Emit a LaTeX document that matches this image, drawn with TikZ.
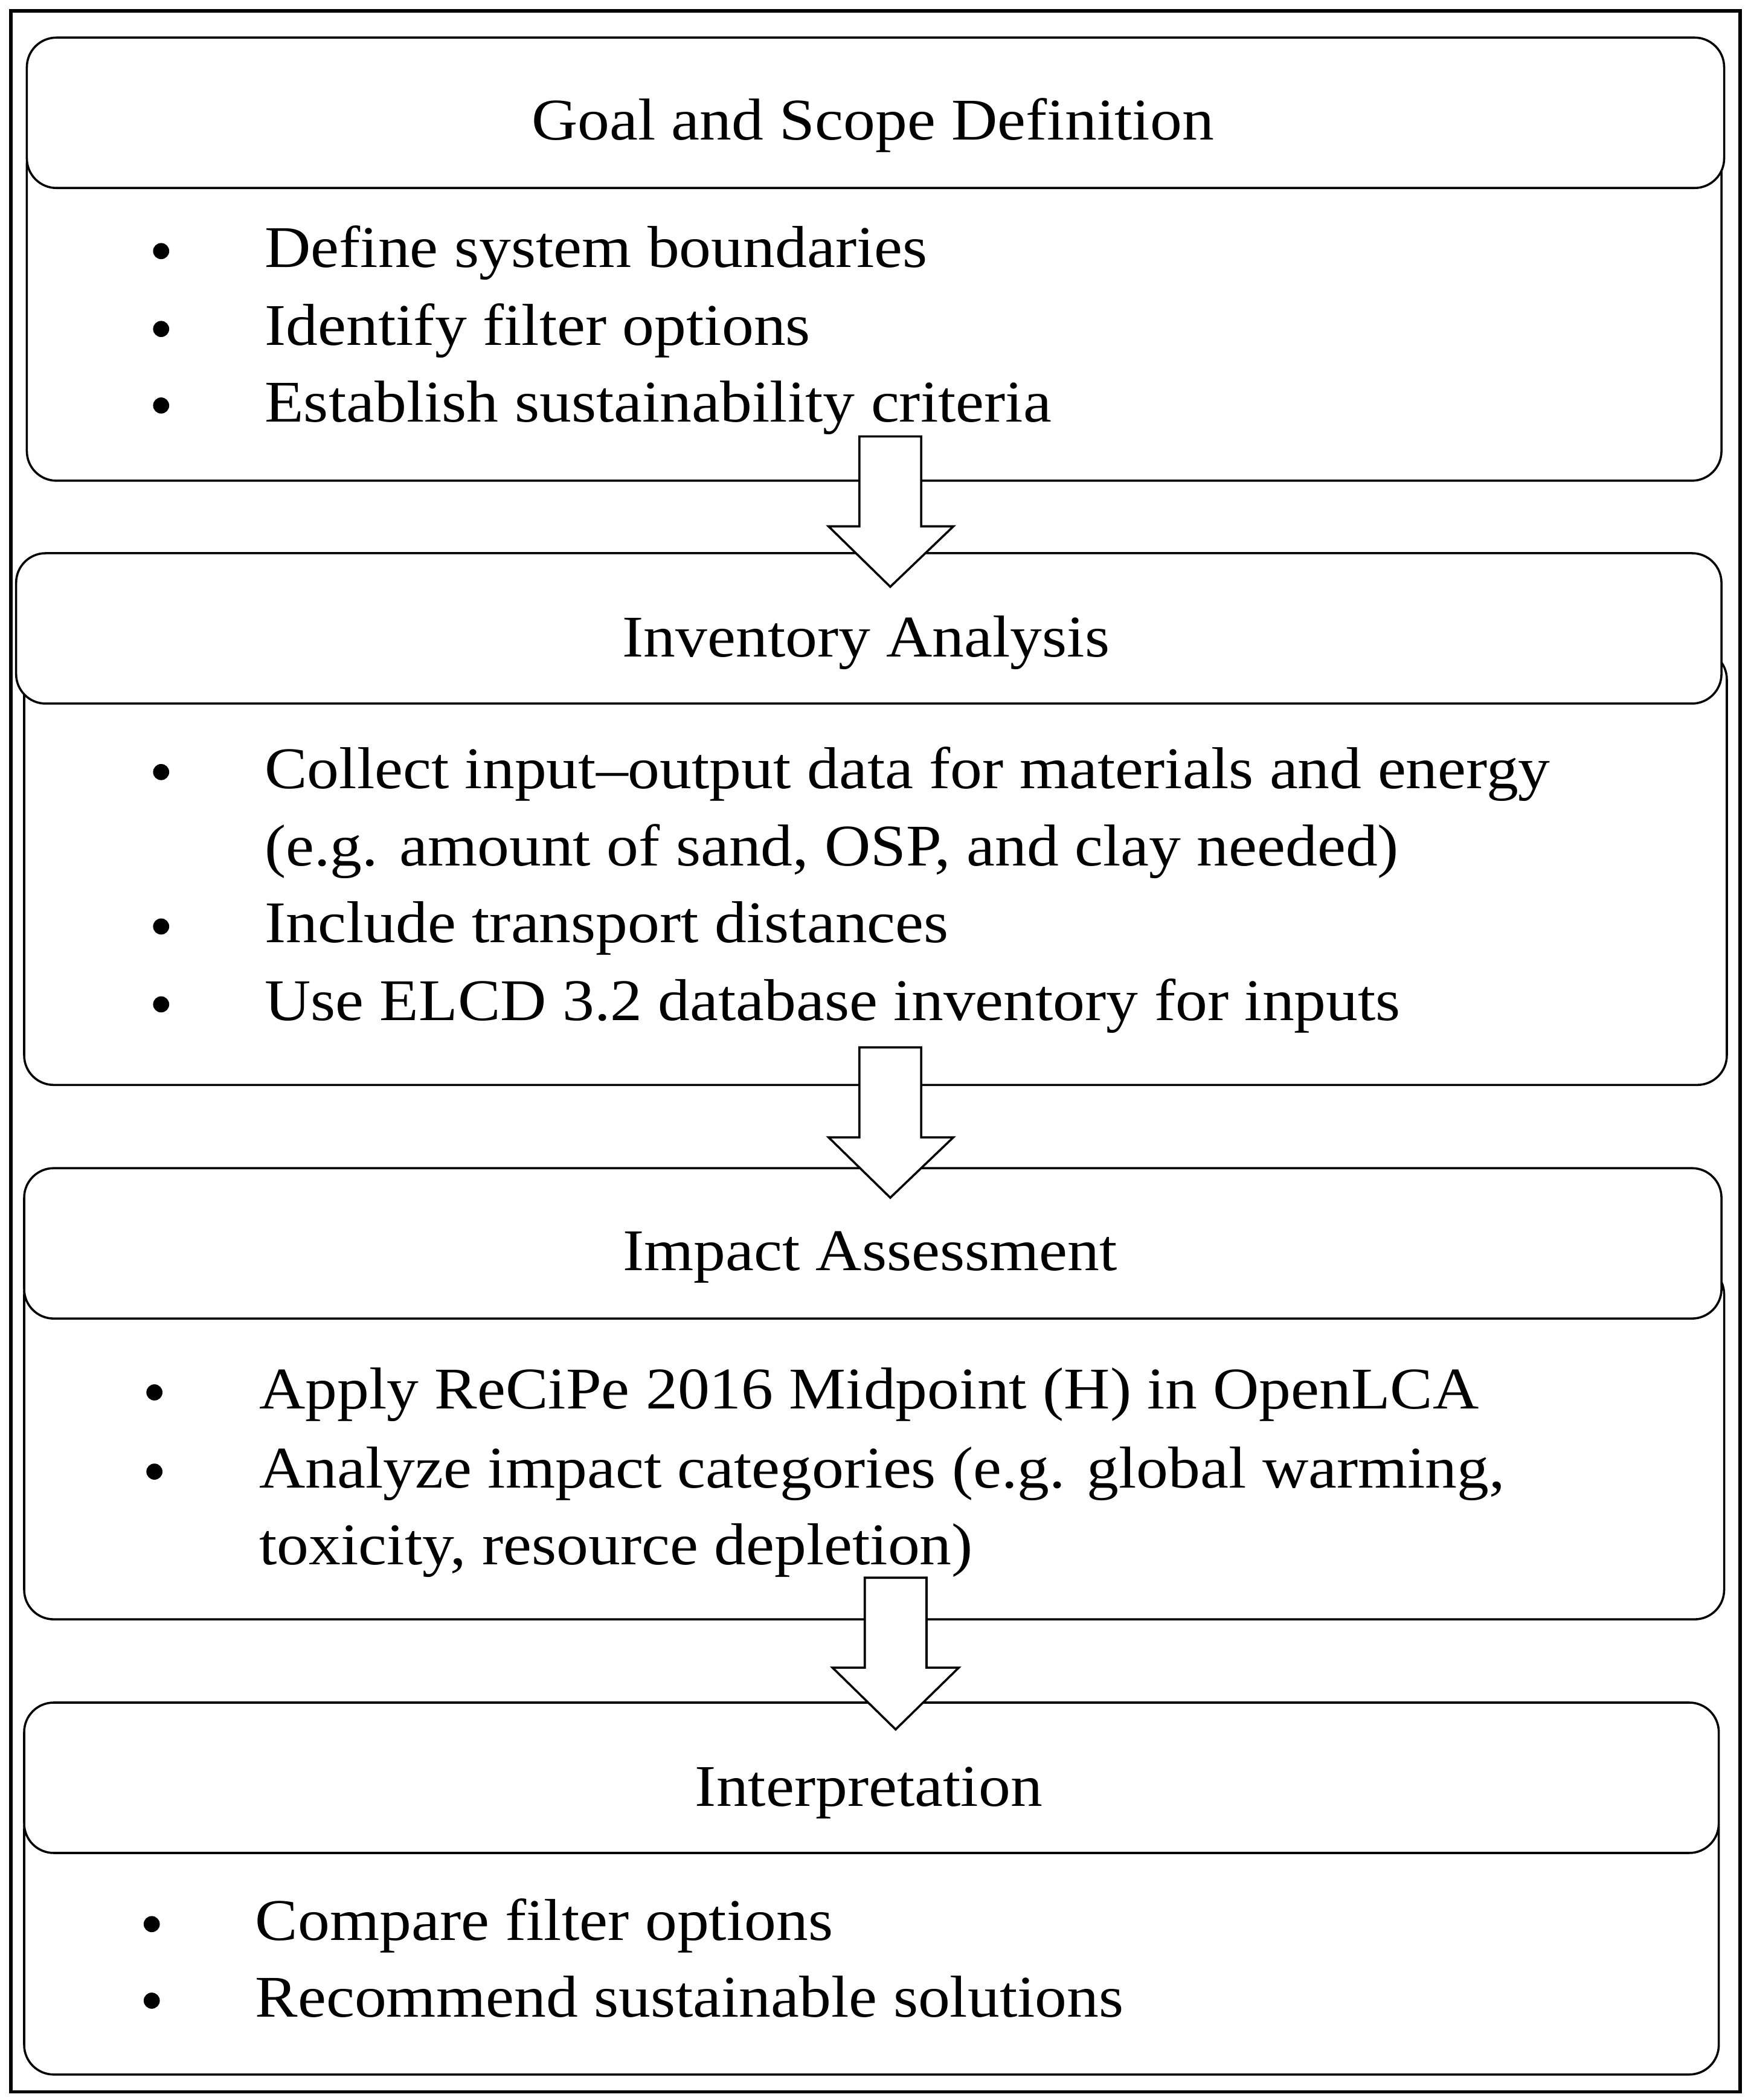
\documentclass[tikz,border=0pt]{standalone}
\usepackage{fontspec}
\setmainfont{Liberation Serif}[FakeStretch=1.08]
\begin{document}
\begin{tikzpicture}[x=1pt,y=-1pt,
  box/.style={draw=black,line width=1.6pt,rounded corners=22pt,fill=white},
  txt/.style={anchor=base west,inner sep=0pt,font=\fontsize{44}{50}\selectfont},
  head/.style={anchor=base,inner sep=0pt,font=\fontsize{44}{50}\selectfont},
  blt/.style={circle,fill=black,inner sep=0pt,minimum size=12pt},
  harrow/.style={draw=black,line width=1.6pt,fill=white,line join=miter}]
\useasboundingbox (0,0) rectangle (1304,1564);
\draw[line width=2.5pt] (8,8) rectangle (1296,1558);
% box 1
\draw[box] (20,100) rectangle (1282,358);
\draw[box] (20,28) rectangle (1284,140);
% box 2
\draw[box] (18,484) rectangle (1286,808);
\draw[box] (12,412) rectangle (1282,524);
% box 3
\draw[box] (18,942) rectangle (1284,1206);
\draw[box] (18,870) rectangle (1282,982);
% box 4
\draw[box] (18,1340) rectangle (1280,1545);
\draw[box] (18,1268) rectangle (1280,1380);
% arrows
\draw[harrow] (640,325) -- (686,325) -- (686,392) -- (710,392) -- (663,437) -- (617,392) -- (640,392) -- cycle;
\draw[harrow] (640,780) -- (686,780) -- (686,847) -- (710,847) -- (663,892) -- (617,847) -- (640,847) -- cycle;
\draw[harrow] (644,1175) -- (690,1175) -- (690,1242) -- (714,1242) -- (667,1288) -- (620,1242) -- (644,1242) -- cycle;
% headings
\node[head] (h1) at (650,104) {Goal and Scope Definition};
\node[head] (h2) at (645,489) {Inventory Analysis};
\node[head] (h3) at (648,946) {Impact Assessment};
\node[head] (h4) at (647,1345) {Interpretation};
% box1 text
\foreach \y/\t [count=\i] in {199/Define system boundaries,257/Identify filter options,314/Establish sustainability criteria}{
  \node[blt] (b1\i) at (120,\y-12) {};
  \node[txt] (t1\i) at (197,\y) {\t};}
% box2 text
\node[blt] (b21) at (120,575) {};
\node[txt] (t21) at (197,587) {Collect input–output data for materials and energy};
\node[txt] (t22) at (197,645) {(e.g. amount of sand, OSP, and clay needed)};
\node[blt] (b23) at (120,690) {};
\node[txt] (t23) at (197,702) {Include transport distances};
\node[blt] (b24) at (120,748) {};
\node[txt] (t24) at (197,760) {Use ELCD 3.2 database inventory for inputs};
% box3 text
\node[blt] (b31) at (115,1037) {};
\node[txt] (t31) at (193,1049) {Apply ReCiPe 2016 Midpoint (H) in OpenLCA};
\node[blt] (b32) at (115,1096) {};
\node[txt] (t32) at (193,1108) {Analyze impact categories (e.g. global warming,};
\node[txt] (t33) at (193,1165) {toxicity, resource depletion)};
% box4 text
\node[blt] (b41) at (113,1433) {};
\node[txt] (t41) at (190,1445) {Compare filter options};
\node[blt] (b42) at (113,1490) {};
\node[txt] (t42) at (190,1502) {Recommend sustainable solutions};
\end{tikzpicture}
\end{document}
